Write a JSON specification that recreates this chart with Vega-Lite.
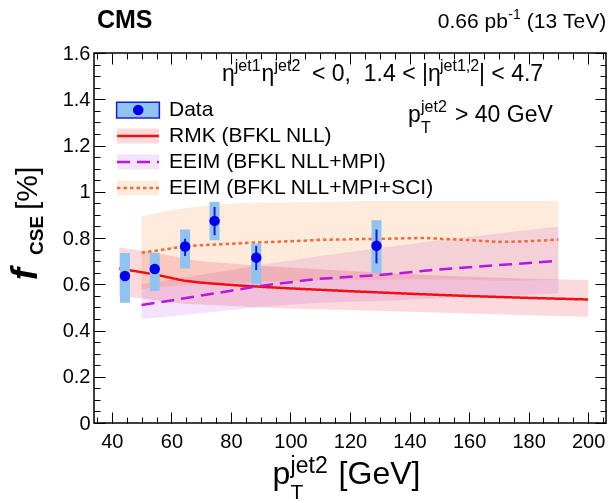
{
 "$schema": "https://vega.github.io/schema/vega-lite/v6.json",
 "width": 512, "height": 370,
 "autosize": "none",
 "padding": {"left": 94, "top": 53, "right": 4, "bottom": 80},
 "background": "white",
 "config": {"view": {"stroke": "black", "strokeWidth": 1.5}, "font": "Liberation Sans"},
 "datasets": {
  "points": [
   {"pt": 44.4, "f": 0.636, "statLo": 0.616, "statHi": 0.656, "sysLo": 0.52, "sysHi": 0.735},
   {"pt": 54.4, "f": 0.666, "statLo": 0.646, "statHi": 0.686, "sysLo": 0.571, "sysHi": 0.736},
   {"pt": 64.6, "f": 0.763, "statLo": 0.722, "statHi": 0.797, "sysLo": 0.668, "sysHi": 0.837},
   {"pt": 74.5, "f": 0.874, "statLo": 0.812, "statHi": 0.934, "sysLo": 0.79, "sysHi": 0.956},
   {"pt": 88.5, "f": 0.715, "statLo": 0.661, "statHi": 0.765, "sysLo": 0.6, "sysHi": 0.776},
   {"pt": 128.9, "f": 0.766, "statLo": 0.69, "statHi": 0.837, "sysLo": 0.649, "sysHi": 0.877}
  ],
  "curves": [
   {"series": "RMK (BFKL NLL)", "pt": 42.5, "center": 0.668, "lo": 0.55, "hi": 0.76},
   {"series": "RMK (BFKL NLL)", "pt": 50, "center": 0.652, "lo": 0.54, "hi": 0.745},
   {"series": "RMK (BFKL NLL)", "pt": 55, "center": 0.641, "lo": 0.53, "hi": 0.735},
   {"series": "RMK (BFKL NLL)", "pt": 60, "center": 0.627, "lo": 0.522, "hi": 0.722},
   {"series": "RMK (BFKL NLL)", "pt": 64, "center": 0.616, "lo": 0.516, "hi": 0.71},
   {"series": "RMK (BFKL NLL)", "pt": 70, "center": 0.607, "lo": 0.512, "hi": 0.7},
   {"series": "RMK (BFKL NLL)", "pt": 80, "center": 0.597, "lo": 0.506, "hi": 0.69},
   {"series": "RMK (BFKL NLL)", "pt": 90, "center": 0.589, "lo": 0.5, "hi": 0.68},
   {"series": "RMK (BFKL NLL)", "pt": 100, "center": 0.582, "lo": 0.495, "hi": 0.672},
   {"series": "RMK (BFKL NLL)", "pt": 120, "center": 0.57, "lo": 0.489, "hi": 0.657},
   {"series": "RMK (BFKL NLL)", "pt": 140, "center": 0.559, "lo": 0.481, "hi": 0.643},
   {"series": "RMK (BFKL NLL)", "pt": 160, "center": 0.549, "lo": 0.473, "hi": 0.632},
   {"series": "RMK (BFKL NLL)", "pt": 180, "center": 0.541, "lo": 0.466, "hi": 0.624},
   {"series": "RMK (BFKL NLL)", "pt": 200, "center": 0.534, "lo": 0.459, "hi": 0.618},
   {"series": "EEIM (BFKL NLL+MPI)", "pt": 50, "center": 0.51, "lo": 0.45, "hi": 0.6},
   {"series": "EEIM (BFKL NLL+MPI)", "pt": 60, "center": 0.53, "lo": 0.462, "hi": 0.62},
   {"series": "EEIM (BFKL NLL+MPI)", "pt": 70, "center": 0.551, "lo": 0.475, "hi": 0.641},
   {"series": "EEIM (BFKL NLL+MPI)", "pt": 80, "center": 0.572, "lo": 0.489, "hi": 0.662},
   {"series": "EEIM (BFKL NLL+MPI)", "pt": 90, "center": 0.593, "lo": 0.502, "hi": 0.684},
   {"series": "EEIM (BFKL NLL+MPI)", "pt": 100, "center": 0.609, "lo": 0.511, "hi": 0.703},
   {"series": "EEIM (BFKL NLL+MPI)", "pt": 110, "center": 0.624, "lo": 0.52, "hi": 0.722},
   {"series": "EEIM (BFKL NLL+MPI)", "pt": 120, "center": 0.632, "lo": 0.524, "hi": 0.74},
   {"series": "EEIM (BFKL NLL+MPI)", "pt": 130, "center": 0.64, "lo": 0.528, "hi": 0.757},
   {"series": "EEIM (BFKL NLL+MPI)", "pt": 150, "center": 0.664, "lo": 0.54, "hi": 0.79},
   {"series": "EEIM (BFKL NLL+MPI)", "pt": 170, "center": 0.683, "lo": 0.55, "hi": 0.82},
   {"series": "EEIM (BFKL NLL+MPI)", "pt": 190, "center": 0.701, "lo": 0.56, "hi": 0.85},
   {"series": "EEIM (BFKL NLL+MPI+SCI)", "pt": 50, "center": 0.736, "lo": 0.58, "hi": 0.895},
   {"series": "EEIM (BFKL NLL+MPI+SCI)", "pt": 60, "center": 0.755, "lo": 0.592, "hi": 0.92},
   {"series": "EEIM (BFKL NLL+MPI+SCI)", "pt": 65, "center": 0.765, "lo": 0.598, "hi": 0.93},
   {"series": "EEIM (BFKL NLL+MPI+SCI)", "pt": 75, "center": 0.772, "lo": 0.603, "hi": 0.945},
   {"series": "EEIM (BFKL NLL+MPI+SCI)", "pt": 87, "center": 0.78, "lo": 0.608, "hi": 0.952},
   {"series": "EEIM (BFKL NLL+MPI+SCI)", "pt": 100, "center": 0.786, "lo": 0.613, "hi": 0.955},
   {"series": "EEIM (BFKL NLL+MPI+SCI)", "pt": 110, "center": 0.792, "lo": 0.617, "hi": 0.957},
   {"series": "EEIM (BFKL NLL+MPI+SCI)", "pt": 127, "center": 0.796, "lo": 0.62, "hi": 0.96},
   {"series": "EEIM (BFKL NLL+MPI+SCI)", "pt": 145, "center": 0.8, "lo": 0.622, "hi": 0.96},
   {"series": "EEIM (BFKL NLL+MPI+SCI)", "pt": 160, "center": 0.791, "lo": 0.62, "hi": 0.96},
   {"series": "EEIM (BFKL NLL+MPI+SCI)", "pt": 170, "center": 0.783, "lo": 0.615, "hi": 0.96},
   {"series": "EEIM (BFKL NLL+MPI+SCI)", "pt": 180, "center": 0.786, "lo": 0.616, "hi": 0.96},
   {"series": "EEIM (BFKL NLL+MPI+SCI)", "pt": 190, "center": 0.793, "lo": 0.62, "hi": 0.96}
  ]
 },
 "resolve": {"axis": {"x": "independent", "y": "independent"}},
 "layer": [
  {
   "data": {"name": "curves"},
   "mark": {"type": "area", "blend": "multiply"},
   "encoding": {
    "x": {"field": "pt", "type": "quantitative", "scale": {"domain": [34, 206], "nice": false, "zero": false},
     "axis": {"orient": "bottom", "values": [40,60,80,100,120,140,160,180,200],
      "labelExpr": "datum.label", "tickSize": -11,
      "labelPadding": 19, "labelFontSize": 20, "labelFont": "Liberation Sans", "labelColor": "black", "labelBaseline": "top",
      "tickColor": "black", "tickWidth": 1, "domain": false, "grid": false, "title": null, "labelOverlap": false, "labelFlush": false}},
    "y": {"field": "lo", "type": "quantitative", "scale": {"domain": [0, 1.6], "nice": false, "zero": false},
     "axis": {"orient": "left", "values": [0,0.2,0.4,0.6,0.8,1,1.2,1.4,1.6],
      "labelExpr": "format(datum.value, '~g')", "tickSize": -11,
      "labelPadding": 15, "labelFontSize": 20, "labelFont": "Liberation Sans", "labelColor": "black",
      "tickColor": "black", "tickWidth": 1, "domain": false, "grid": false, "title": null, "labelOverlap": false, "labelFlush": false}},
    "y2": {"field": "hi"},
    "fill": {"field": "series", "type": "nominal",
     "scale": {"domain": ["Data", "RMK (BFKL NLL)", "EEIM (BFKL NLL+MPI)", "EEIM (BFKL NLL+MPI+SCI)"], "range": ["#8fc4f0", "#fbd9dd", "#f5e3fb", "#feebdb"]},
     "legend": {"orient": "none", "legendX": 33.5, "legendY": 46.5, "direction": "vertical", "title": null, "padding": 0,
      "symbolType": "M-2.8,-1H2.8V1H-2.8Z", "symbolSize": 225, "symbolStrokeWidth": 0, "symbolOpacity": 1,
      "labelOffset": 20.5, "labelLimit": 500, "labelFontSize": 21, "labelFont": "Liberation Sans", "labelColor": "black", "rowPadding": 4}}
   }
  },
  {
   "data": {"name": "curves"},
   "mark": {"type": "line", "strokeWidth": 2.5},
   "encoding": {
    "x": {"field": "pt", "type": "quantitative", "scale": {"domain": [34, 206], "nice": false, "zero": false},
     "axis": {"orient": "top", "values": [40,60,80,100,120,140,160,180,200],
      "labels": false, "tickSize": -11, "tickColor": "black", "tickWidth": 1, "domain": false, "grid": false, "title": null}},
    "y": {"field": "center", "type": "quantitative", "scale": {"domain": [0, 1.6], "nice": false, "zero": false},
     "axis": {"orient": "right", "values": [0,0.2,0.4,0.6,0.8,1,1.2,1.4,1.6],
      "labels": false, "tickSize": -11, "tickColor": "black", "tickWidth": 1, "domain": false, "grid": false, "title": null}},
    "stroke": {"field": "series", "type": "nominal",
     "scale": {"domain": ["RMK (BFKL NLL)", "EEIM (BFKL NLL+MPI)", "EEIM (BFKL NLL+MPI+SCI)", "Data"], "range": ["#f01010", "#b816e6", "#f26a3a", "transparent"]},
     "legend": {"orient": "none", "legendX": 33.5, "legendY": 46.5, "direction": "vertical", "title": null, "padding": 0,
      "values": ["Data", "RMK (BFKL NLL)", "EEIM (BFKL NLL+MPI)", "EEIM (BFKL NLL+MPI+SCI)"],
      "symbolType": "M-2.8,0H2.8", "symbolSize": 225, "symbolStrokeWidth": 2.5,
      "labelExpr": "'\u00a0'", "labelOffset": -20, "labelFontSize": 21, "labelFont": "Liberation Sans", "labelOpacity": 0, "rowPadding": 4}},
    "strokeDash": {"field": "series", "type": "nominal",
     "scale": {"domain": ["RMK (BFKL NLL)", "EEIM (BFKL NLL+MPI)", "EEIM (BFKL NLL+MPI+SCI)", "Data"], "range": [[1, 0], [13, 7], [3.5, 3], [1, 0]]},
     "legend": {"orient": "none", "legendX": 33.5, "legendY": 46.5, "direction": "vertical", "title": null, "padding": 0,
      "values": ["Data", "RMK (BFKL NLL)", "EEIM (BFKL NLL+MPI)", "EEIM (BFKL NLL+MPI+SCI)"],
      "symbolType": "M-2.8,0H2.8", "symbolSize": 225, "symbolStrokeWidth": 2.5,
      "labelExpr": "'\u00a0'", "labelOffset": -20, "labelFontSize": 21, "labelFont": "Liberation Sans", "labelOpacity": 0, "rowPadding": 4}}
   }
  },
  {
   "data": {"name": "points"},
   "mark": {"type": "rule", "color": "#8fc4f0", "strokeWidth": 10},
   "encoding": {
    "x": {"field": "pt", "type": "quantitative",
     "axis": {"orient": "bottom", "values": [35,45,50,55,65,70,75,85,90,95,105,110,115,125,130,135,145,150,155,165,170,175,185,190,195,205],
      "labels": false, "tickSize": -6, "tickColor": "black", "tickWidth": 1, "domain": false, "grid": false, "title": null}},
    "y": {"field": "sysLo", "type": "quantitative",
     "axis": {"orient": "left", "values": [0.05,0.1,0.15,0.25,0.3,0.35,0.45,0.5,0.55,0.65,0.7,0.75,0.85,0.9,0.95,1.05,1.1,1.15,1.25,1.3,1.35,1.45,1.5,1.55],
      "labels": false, "tickSize": -6, "tickColor": "black", "tickWidth": 1, "domain": false, "grid": false, "title": null}},
    "y2": {"field": "sysHi"}
   }
  },
  {
   "data": {"name": "points"},
   "mark": {"type": "rule", "strokeWidth": 2},
   "encoding": {
    "x": {"field": "pt", "type": "quantitative",
     "axis": {"orient": "top", "values": [35,45,50,55,65,70,75,85,90,95,105,110,115,125,130,135,145,150,155,165,170,175,185,190,195,205],
      "labels": false, "tickSize": -6, "tickColor": "black", "tickWidth": 1, "domain": false, "grid": false, "title": null}},
    "y": {"field": "statLo", "type": "quantitative",
     "axis": {"orient": "right", "values": [0.05,0.1,0.15,0.25,0.3,0.35,0.45,0.5,0.55,0.65,0.7,0.75,0.85,0.9,0.95,1.05,1.1,1.15,1.25,1.3,1.35,1.45,1.5,1.55],
      "labels": false, "tickSize": -6, "tickColor": "black", "tickWidth": 1, "domain": false, "grid": false, "title": null}},
    "y2": {"field": "statHi"},
    "color": {"datum": "box", "scale": {"domain": ["box"], "range": ["#1a1ad8"]},
     "legend": {"orient": "none", "legendX": 33.5, "legendY": 46.5, "direction": "vertical", "title": null, "padding": 0,
      "symbolType": "M-2.85,-1.05H2.85V1.05H-2.85Z", "symbolSize": 225, "symbolStrokeWidth": 1.5, "symbolFillColor": "transparent",
      "labelExpr": "'\u00a0'", "labelOffset": -20, "labelFontSize": 21, "labelFont": "Liberation Sans", "labelOpacity": 0, "rowPadding": 4}}
   }
  },
  {
   "data": {"name": "points"},
   "mark": {"type": "point", "filled": true, "size": 110, "color": "#0000ee", "opacity": 1},
   "encoding": {
    "x": {"field": "pt", "type": "quantitative", "axis": null},
    "y": {"field": "f", "type": "quantitative", "axis": null},
    "shape": {"datum": "Data", "scale": {"domain": ["Data"], "range": ["circle"]},
     "legend": {"orient": "none", "legendX": 33.75, "legendY": 46.5, "direction": "vertical", "title": null, "padding": 0,
      "symbolSize": 110, "symbolStrokeWidth": 0, "labelExpr": "'\u00a0'", "labelOffset": -20, "labelFontSize": 21, "labelFont": "Liberation Sans", "labelOpacity": 0, "rowPadding": 4}}
   }
  },
  {"data": {"values": [{}]}, "mark": {"type": "text", "text": "CMS", "fontSize": 25, "fontWeight": "bold", "align": "left", "baseline": "alphabetic", "color": "black"},
   "encoding": {"x": {"datum": 35.0, "type": "quantitative", "axis": null}, "y": {"datum": 1.708, "type": "quantitative", "axis": null}}},
  {"data": {"values": [{}]}, "mark": {"type": "text", "text": "0.66\u00a0pb", "fontSize": 21, "align": "left", "baseline": "alphabetic", "color": "black"},
   "encoding": {"x": {"datum": 149.5, "type": "quantitative", "axis": null}, "y": {"datum": 1.708, "type": "quantitative", "axis": null}}},
  {"data": {"values": [{}]}, "mark": {"type": "text", "text": "-1", "fontSize": 14, "dx": 70.5, "dy": -9, "align": "left", "baseline": "alphabetic", "color": "black"},
   "encoding": {"x": {"datum": 149.5, "type": "quantitative", "axis": null}, "y": {"datum": 1.708, "type": "quantitative", "axis": null}}},
  {"data": {"values": [{}]}, "mark": {"type": "text", "text": "(13\u00a0TeV)", "fontSize": 21, "dx": 89, "align": "left", "baseline": "alphabetic", "color": "black"},
   "encoding": {"x": {"datum": 149.5, "type": "quantitative", "axis": null}, "y": {"datum": 1.708, "type": "quantitative", "axis": null}}},
  {"data": {"values": [{}]}, "mark": {"type": "text", "text": "η", "fontSize": 23, "align": "left", "baseline": "alphabetic", "color": "black"},
   "encoding": {"x": {"datum": 77.0, "type": "quantitative", "axis": null}, "y": {"datum": 1.479, "type": "quantitative", "axis": null}}},
  {"data": {"values": [{}]}, "mark": {"type": "text", "text": "jet1", "fontSize": 16, "dx": 12.8, "dy": -10, "align": "left", "baseline": "alphabetic", "color": "black"},
   "encoding": {"x": {"datum": 77.0, "type": "quantitative", "axis": null}, "y": {"datum": 1.479, "type": "quantitative", "axis": null}}},
  {"data": {"values": [{}]}, "mark": {"type": "text", "text": "η", "fontSize": 23, "dx": 39.5, "align": "left", "baseline": "alphabetic", "color": "black"},
   "encoding": {"x": {"datum": 77.0, "type": "quantitative", "axis": null}, "y": {"datum": 1.479, "type": "quantitative", "axis": null}}},
  {"data": {"values": [{}]}, "mark": {"type": "text", "text": "jet2", "fontSize": 16, "dx": 52.5, "dy": -10, "align": "left", "baseline": "alphabetic", "color": "black"},
   "encoding": {"x": {"datum": 77.0, "type": "quantitative", "axis": null}, "y": {"datum": 1.479, "type": "quantitative", "axis": null}}},
  {"data": {"values": [{}]}, "mark": {"type": "text", "text": "<\u00a00,\u00a0\u00a01.4\u00a0<\u00a0|η", "fontSize": 23, "dx": 90, "align": "left", "baseline": "alphabetic", "color": "black"},
   "encoding": {"x": {"datum": 77.0, "type": "quantitative", "axis": null}, "y": {"datum": 1.479, "type": "quantitative", "axis": null}}},
  {"data": {"values": [{}]}, "mark": {"type": "text", "text": "jet1,2", "fontSize": 16, "dx": 218, "dy": -10, "align": "left", "baseline": "alphabetic", "color": "black"},
   "encoding": {"x": {"datum": 77.0, "type": "quantitative", "axis": null}, "y": {"datum": 1.479, "type": "quantitative", "axis": null}}},
  {"data": {"values": [{}]}, "mark": {"type": "text", "text": "|\u00a0<\u00a04.7", "fontSize": 23, "dx": 257, "align": "left", "baseline": "alphabetic", "color": "black"},
   "encoding": {"x": {"datum": 77.0, "type": "quantitative", "axis": null}, "y": {"datum": 1.479, "type": "quantitative", "axis": null}}},
  {"data": {"values": [{}]}, "mark": {"type": "text", "text": "p", "fontSize": 23, "align": "left", "baseline": "alphabetic", "color": "black"},
   "encoding": {"x": {"datum": 139.48, "type": "quantitative", "axis": null}, "y": {"datum": 1.3016, "type": "quantitative", "axis": null}}},
  {"data": {"values": [{}]}, "mark": {"type": "text", "text": "jet2", "fontSize": 16, "dx": 13, "dy": -10, "align": "left", "baseline": "alphabetic", "color": "black"},
   "encoding": {"x": {"datum": 139.48, "type": "quantitative", "axis": null}, "y": {"datum": 1.3016, "type": "quantitative", "axis": null}}},
  {"data": {"values": [{}]}, "mark": {"type": "text", "text": "T", "fontSize": 16, "dx": 13, "dy": 11, "align": "left", "baseline": "alphabetic", "color": "black"},
   "encoding": {"x": {"datum": 139.48, "type": "quantitative", "axis": null}, "y": {"datum": 1.3016, "type": "quantitative", "axis": null}}},
  {"data": {"values": [{}]}, "mark": {"type": "text", "text": ">\u00a040\u00a0GeV", "fontSize": 23, "dx": 47, "align": "left", "baseline": "alphabetic", "color": "black"},
   "encoding": {"x": {"datum": 139.48, "type": "quantitative", "axis": null}, "y": {"datum": 1.3016, "type": "quantitative", "axis": null}}},
  {"data": {"values": [{}]}, "mark": {"type": "text", "text": "p", "fontSize": 32, "align": "left", "baseline": "alphabetic", "color": "black"},
   "encoding": {"x": {"datum": 94.0, "type": "quantitative", "axis": null}, "y": {"datum": -0.2638, "type": "quantitative", "axis": null}}},
  {"data": {"values": [{}]}, "mark": {"type": "text", "text": "jet2", "fontSize": 23, "dx": 18, "dy": -11, "align": "left", "baseline": "alphabetic", "color": "black"},
   "encoding": {"x": {"datum": 94.0, "type": "quantitative", "axis": null}, "y": {"datum": -0.2638, "type": "quantitative", "axis": null}}},
  {"data": {"values": [{}]}, "mark": {"type": "text", "text": "T", "fontSize": 21, "dx": 18, "dy": 15, "align": "left", "baseline": "alphabetic", "color": "black"},
   "encoding": {"x": {"datum": 94.0, "type": "quantitative", "axis": null}, "y": {"datum": -0.2638, "type": "quantitative", "axis": null}}},
  {"data": {"values": [{}]}, "mark": {"type": "text", "text": "[GeV]", "fontSize": 32, "dx": 66, "align": "left", "baseline": "alphabetic", "color": "black"},
   "encoding": {"x": {"datum": 94.0, "type": "quantitative", "axis": null}, "y": {"datum": -0.2638, "type": "quantitative", "axis": null}}},
  {"data": {"values": [{}]}, "mark": {"type": "text", "text": "f", "fontSize": 36, "fontWeight": "bold", "fontStyle": "italic", "angle": 270, "align": "left", "baseline": "alphabetic", "color": "black"},
   "encoding": {"x": {"datum": 14.85, "type": "quantitative", "axis": null}, "y": {"datum": 0.6184, "type": "quantitative", "axis": null}}},
  {"data": {"values": [{}]}, "mark": {"type": "text", "text": "CSE", "fontSize": 19, "fontWeight": "bold", "angle": 270, "dx": 25, "dy": 6, "align": "left", "baseline": "alphabetic", "color": "black"},
   "encoding": {"x": {"datum": 14.85, "type": "quantitative", "axis": null}, "y": {"datum": 0.6184, "type": "quantitative", "axis": null}}},
  {"data": {"values": [{}]}, "mark": {"type": "text", "text": "[%]", "fontSize": 30, "angle": 270, "dx": 70, "align": "left", "baseline": "alphabetic", "color": "black"},
   "encoding": {"x": {"datum": 14.85, "type": "quantitative", "axis": null}, "y": {"datum": 0.6184, "type": "quantitative", "axis": null}}}
 ]
}
